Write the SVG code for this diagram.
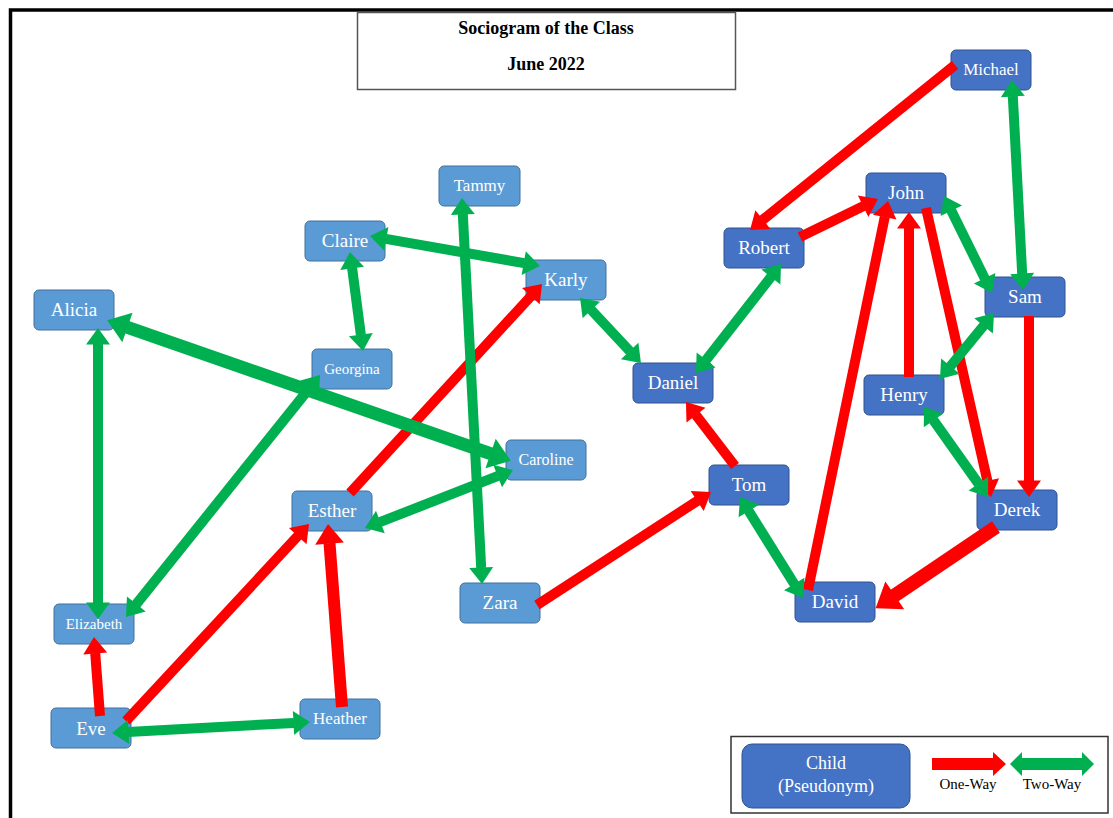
<svg xmlns="http://www.w3.org/2000/svg" width="1113" height="818" viewBox="0 0 1113 818">
<style>
.lb rect{fill:#5B9BD5;stroke:#41719C;stroke-width:1}
.db rect{fill:#4472C4;stroke:#2F528F;stroke-width:1}
.node text{fill:#fff;font-family:"Liberation Serif","Times New Roman",serif;font-size:19px;text-anchor:middle}
.node text.s14{font-size:15px}
.node text.s15{font-size:16px}
.node text.s16{font-size:17px}
.r{stroke:#FF0000;stroke-width:10;fill:none;marker-end:url(#hr)}
.g{stroke:#00B050;stroke-width:10;fill:none;marker-start:url(#hg);marker-end:url(#hg)}
.t{font-family:"Liberation Serif","Times New Roman",serif;fill:#000;text-anchor:middle}
.lt{font-family:"Liberation Serif","Times New Roman",serif;fill:#fff;text-anchor:middle;font-size:18px}
</style>
<defs>
<marker id="hr" markerWidth="2" markerHeight="3" refX="0" refY="0" orient="auto-start-reverse" overflow="visible"><path d="M-0.05,-1.2 L1.6,0 L-0.05,1.2 Z" fill="#FF0000"/></marker>
<marker id="hg" markerWidth="2" markerHeight="3" refX="0" refY="0" orient="auto-start-reverse" overflow="visible"><path d="M-0.05,-1.2 L1.6,0 L-0.05,1.2 Z" fill="#00B050"/></marker>
</defs>
<rect x="0" y="0" width="1113" height="818" fill="#fff"/>
<rect id="frame" x="10.5" y="10" width="1120" height="830" fill="none" stroke="#000" stroke-width="3.5"/>
<g id="title">
<rect x="357.5" y="12.5" width="378" height="77" fill="#fff" stroke="#555" stroke-width="1.5"/>
<text class="t" x="546" y="34" font-size="18" font-weight="bold">Sociogram of the Class</text>
<text class="t" x="546" y="70" font-size="18" font-weight="bold">June 2022</text>
</g>
<g id="n-tammy" class="node lb"><rect x="439" y="166" width="81" height="40" rx="5"/><text class="s16" x="479.5" y="191">Tammy</text></g>
<g id="n-claire" class="node lb"><rect x="305" y="221" width="80" height="40" rx="5"/><text x="345" y="247">Claire</text></g>
<g id="n-karly" class="node lb"><rect x="526" y="260" width="80" height="40" rx="5"/><text x="566" y="286">Karly</text></g>
<g id="n-alicia" class="node lb"><rect x="34" y="290" width="80" height="40" rx="5"/><text x="74" y="316">Alicia</text></g>
<g id="n-georgina" class="node lb"><rect x="312" y="349" width="80" height="40" rx="5"/><text class="s14" x="352" y="374">Georgina</text></g>
<g id="n-caroline" class="node lb"><rect x="506" y="440" width="80" height="40" rx="5"/><text class="s15" x="546" y="465">Caroline</text></g>
<g id="n-esther" class="node lb"><rect x="292" y="491" width="80" height="40" rx="5"/><text x="332" y="517">Esther</text></g>
<g id="n-zara" class="node lb"><rect x="460" y="583" width="80" height="40" rx="5"/><text x="500" y="609">Zara</text></g>
<g id="n-elizabeth" class="node lb"><rect x="54" y="604" width="80" height="40" rx="5"/><text class="s14" x="94" y="629">Elizabeth</text></g>
<g id="n-eve" class="node lb"><rect x="51" y="708" width="80" height="40" rx="5"/><text x="91" y="735">Eve</text></g>
<g id="n-heather" class="node lb"><rect x="300" y="699" width="80" height="40" rx="5"/><text class="s16" x="340" y="724">Heather</text></g>
<g id="n-michael" class="node db"><rect x="951" y="50" width="80" height="40" rx="5"/><text class="s16" x="991" y="75">Michael</text></g>
<g id="n-john" class="node db"><rect x="866" y="173" width="80" height="40" rx="5"/><text x="906" y="199">John</text></g>
<g id="n-robert" class="node db"><rect x="724" y="228" width="80" height="40" rx="5"/><text x="764" y="254">Robert</text></g>
<g id="n-sam" class="node db"><rect x="985" y="277" width="80" height="40" rx="5"/><text x="1025" y="303">Sam</text></g>
<g id="n-daniel" class="node db"><rect x="633" y="363" width="80" height="40" rx="5"/><text x="673" y="389">Daniel</text></g>
<g id="n-henry" class="node db"><rect x="864" y="375" width="80" height="40" rx="5"/><text x="904" y="401">Henry</text></g>
<g id="n-tom" class="node db"><rect x="709" y="465" width="80" height="40" rx="5"/><text x="749" y="491">Tom</text></g>
<g id="n-derek" class="node db"><rect x="977" y="490" width="80" height="40" rx="5"/><text x="1017" y="516">Derek</text></g>
<g id="n-david" class="node db"><rect x="795" y="582" width="80" height="40" rx="5"/><text x="835" y="608">David</text></g>
<g id="connectors">
<path class="r" d="M955,65 L762.5,220" stroke-width="9"/>
<path class="r" d="M800,237 L863.6,206"/>
<path class="r" d="M808,590 L884.8,216.7"/>
<path class="r" d="M909,377 L909,228"/>
<path class="r" d="M926,208 L987.5,481.4"/>
<path class="r" d="M1029,316 L1029,481"/>
<path class="r" d="M996,527 L894.2,595.7" style="stroke-width:14"/>
<path class="r" d="M735,466 L695.7,414.7"/>
<path class="r" d="M537,605 L697.6,500.7"/>
<path class="r" d="M350,493 L531.2,295.8"/>
<path class="r" d="M126,721 L298.1,535.7"/>
<path class="r" d="M342,707 L329.5,543.1" style="stroke-width:12"/>
<path class="r" d="M100,716 L95.2,653"/>
<path class="g" d="M1012.8,96 L1022.2,274"/>
<path class="g" d="M951.1,210.3 L984.9,278.7"/>
<path class="g" d="M983.9,325.4 L950.1,366.6"/>
<path class="g" d="M933.3,420 L978.7,484"/>
<path class="g" d="M771.2,276.6 L705.8,360.4"/>
<path class="g" d="M591,309.7 L630,351.3"/>
<path class="g" d="M748.5,510.6 L794.5,584.4"/>
<path class="g" d="M385.8,238.8 L524.2,263.2"/>
<path class="g" d="M352.1,267.9 L360.9,335.1"/>
<path class="g" d="M462.8,214 L481.2,568"/>
<path class="g" d="M126.8,327.2 L491.2,453.8" style="stroke-width:13"/>
<path class="g" d="M98,344 L98,603"/>
<path class="g" d="M310,387.5 L136,604.5"/>
<path class="g" d="M498.1,475.8 L379.9,522.2"/>
<path class="g" d="M128,732.1 L294,722.9"/>
</g>
<g id="legend">
<rect x="731" y="736.5" width="377" height="76.5" fill="#fff" stroke="#333" stroke-width="1.5"/>
<rect x="742" y="744" width="168" height="64" rx="10" fill="#4472C4" stroke="#2F528F"/>
<text class="lt" x="826" y="769">Child</text>
<text class="lt" x="826" y="792">(Pseudonym)</text>
<polygon points="932,758 993,758 993,752 1006,764 993,776 993,770 932,770" fill="#FF0000"/>
<polygon points="1010,764 1022,752 1022,758 1082,758 1082,752 1094,764 1082,776 1082,770 1022,770 1022,776" fill="#00B050"/>
<text class="t" x="968" y="789" font-size="15">One-Way</text>
<text class="t" x="1052" y="789" font-size="15">Two-Way</text>
</g>
</svg>
